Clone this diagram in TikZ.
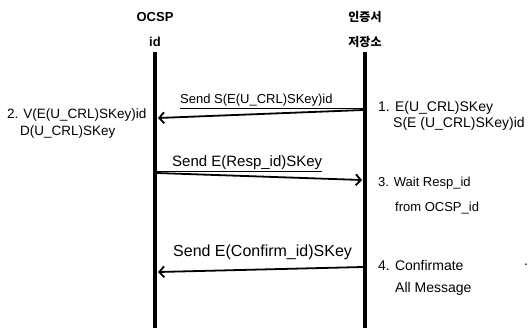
\documentclass[tikz,border=0pt]{standalone}
\usepackage{fontspec}
\setmainfont{Liberation Sans}
\newfontfamily\krfont{Noto Sans CJK KR}
\usetikzlibrary{arrows.meta}

\begin{document}
\begin{tikzpicture}[x=1pt,y=-1pt,>={Straight Barb[length=5pt,width=11pt]},
    lifeline/.style={line width=3.5pt},
    msg/.style={line width=1.8pt,->},
    head/.style={font=\fontsize{13}{15}\selectfont\bfseries,inner sep=0pt},
    krhead/.style={font=\krfont\fontsize{12}{14}\selectfont\bfseries,inner sep=0pt},
    txt/.style={font=\fontsize{#1}{16}\selectfont,inner sep=0pt,anchor=west},
    txt/.default=14]
  \useasboundingbox (0,0) rectangle (530,330);
  % heads of the two lifelines
  \node[head] (ocsp) at (155,17) {OCSP};
  \node[head] (ocspid) at (155,42) {id};
  \node[krhead] (cert) at (365,17) {인증서};
  \node[krhead] (store) at (365,42) {저장소};
  \coordinate (ltop) at (155,52);
  \coordinate (lbot) at (155,328);
  \coordinate (rtop) at (365,52);
  \coordinate (rbot) at (365,328);
  \draw[lifeline] (ltop) -- (lbot);
  \draw[lifeline] (rtop) -- (rbot);
  % messages
  \coordinate (m1a) at (363,110);
  \coordinate (m1b) at (158,118);
  \coordinate (m2a) at (157,173);
  \coordinate (m2b) at (362,180);
  \coordinate (m3a) at (363,267);
  \coordinate (m3b) at (158,272);
  \draw[msg] (m1a) -- (m1b);
  \draw[msg] (m2a) -- (m2b);
  \draw[msg] (m3a) -- (m3b);
  \node[txt=13] (s1) at (180,100) {Send S(E(U\_CRL)SKey)id};
  \node[txt=15] (s2) at (172,163) {Send E(Resp\_id)SKey};
  \node[txt=16] (s3) at (173,252) {Send E(Confirm\_id)SKey};
  \draw[line width=0.6pt] ([yshift=-2pt]s1.south west) -- ([yshift=-2pt]s1.south west -| rtop);
  \draw[line width=0.6pt] ([yshift=-1pt]s2.south west -| ltop) -- ([yshift=-1pt]s2.south east);
  % steps
  \node[txt] (st1) at (378,108) {1. E(U\_CRL)SKey};
  \node[txt] (st1b) at (393,124) {S(E (U\_CRL)SKey)id};
  \node[txt=13.5] (st2) at (7,115) {2. V(E(U\_CRL)SKey)id};
  \node[txt=13.5] (st2b) at (20,132) {D(U\_CRL)SKey};
  \node[txt=13] (st3) at (378,183) {3. Wait Resp\_id};
  \node[txt=13] (st3b) at (395,208) {from OCSP\_id};
  \node[txt] (st4) at (378,265) {4. Confirmate};
  \node[txt] (st4b) at (395,289) {All Message};
  \node[txt] (dot) at (524,265) {.};
\end{tikzpicture}
\end{document}
